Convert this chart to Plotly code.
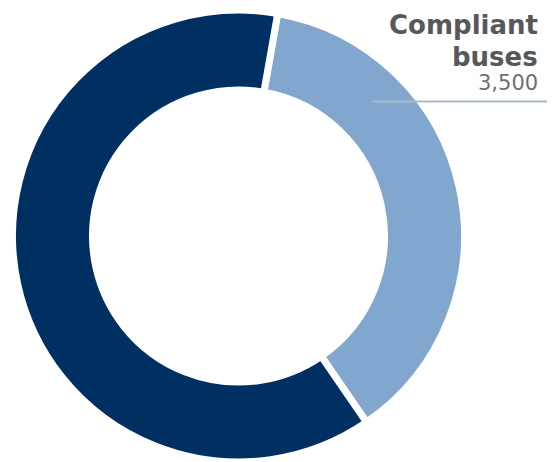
import plotly.graph_objects as go

# Bus fleet split
labels = ["Compliant buses", "Other buses"]
values = [3500, 5800]
colors = ["#82A7CF", "#002F62"]

W, H = 555, 462
cx, cy, r = 238.5, 236.0, 226.0   # pie centre and radius in pixels

fig = go.Figure(
    go.Pie(
        labels=labels,
        values=values,
        hole=0.646,
        sort=False,
        direction="clockwise",
        rotation=10,
        marker=dict(colors=colors, line=dict(color="white", width=7)),
        textinfo="none",
        hoverinfo="label+value",
        domain=dict(x=[(cx - r) / W, (cx + r) / W], y=[0, (2 * r) / H]),
        showlegend=False,
    )
)

label_font = "DejaVu Sans"
fig.add_annotation(
    text="<b>Compliant</b>", xref="paper", yref="paper",
    x=540 / W, y=1 - 25 / H, xanchor="right", yanchor="middle",
    showarrow=False, font=dict(family=label_font, size=26, color="#58585A"),
)
fig.add_annotation(
    text="<b>buses</b>", xref="paper", yref="paper",
    x=540 / W, y=1 - 57 / H, xanchor="right", yanchor="middle",
    showarrow=False, font=dict(family=label_font, size=26, color="#58585A"),
)
fig.add_annotation(
    text=f"{values[0]:,}", xref="paper", yref="paper",
    x=540 / W, y=1 - 83 / H, xanchor="right", yanchor="middle",
    showarrow=False, font=dict(family=label_font, size=21, color="#6E6F72"),
)
fig.add_shape(
    type="line", xref="paper", yref="paper",
    x0=372 / W, x1=547 / W, y0=1 - 101.5 / H, y1=1 - 101.5 / H,
    line=dict(color="#A9B7C6", width=2),
)

fig.update_layout(
    width=W, height=H,
    margin=dict(l=0, r=0, t=0, b=0),
    paper_bgcolor="white",
    plot_bgcolor="white",
)

fig.write_html("out.html")
